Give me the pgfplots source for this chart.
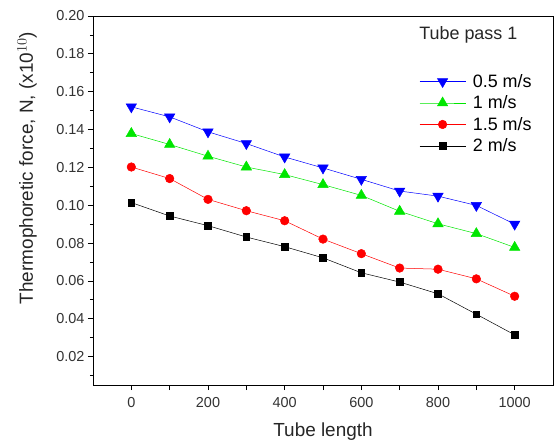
\documentclass[border=0pt]{standalone}
\usepackage{fontspec}
\setmainfont{Liberation Sans}
\usepackage{pgfplots}
\pgfplotsset{compat=1.18}
\begin{document}
\begin{tikzpicture}
\begin{axis}[
  name=ax,
  scale only axis,
  width=460bp, height=369bp,
  xmin=-100, xmax=1100,
  ymin=0.005, ymax=0.20,
  xtick={0,100,...,1000},
  xticklabels={0,,200,,400,,600,,800,,1000},
  ytick={0.02,0.04,...,0.2001},
  minor ytick={0.01,0.03,...,0.2},
  tick align=outside,
  xtick pos=bottom, ytick pos=left,
  major tick length=5bp, minor tick length=3bp,
  tick style={black, line width=0.7pt},
  axis line style={line width=0.9pt},
  yticklabel style={/pgf/number format/fixed, /pgf/number format/fixed zerofill, /pgf/number format/precision=2},
  xticklabel style={yshift=-4bp},
  /pgf/number format/1000 sep={},
  /pgf/number format/assume math mode=true,
  ticklabel style={font=\fontsize{14.5}{16}\selectfont, text=black!80},
  xlabel={Tube length},
  ylabel={Thermophoretic force, N, (x10$^{10}$)},
  label style={font=\fontsize{19}{21}\selectfont, text=black!85},
  xlabel style={at={([yshift=-47bp]rel axis cs:0.5,0)}, anchor=center},
  ylabel style={at={([xshift=-66bp]rel axis cs:0,0.588)}, anchor=center},
  legend style={draw=none, fill=none, at={(rel axis cs:0.709,0.848)}, anchor=north west,
    font=\fontsize{18}{20}\selectfont, row sep=3bp, inner sep=0bp,
    /tikz/every odd column/.append style={column sep=5bp}},
  legend cell align=left,
  legend image code/.code={\draw[#1, mark repeat=2, mark phase=2] plot coordinates {(0bp,0bp) (23bp,0bp) (46bp,0bp)};},
]
\addplot[blue, line width=0.5pt, mark=triangle*, mark size=6bp, mark options={rotate=180, solid}] coordinates {
(0,0.1520) (100,0.1467) (200,0.1388) (300,0.1326) (400,0.1255) (500,0.1197) (600,0.1137) (700,0.1075) (800,0.1048) (900,0.0999) (1000,0.0900)};
\addlegendentry{0.5 m/s}
\addplot[color={rgb,255:red,0;green,230;blue,0}, line width=0.5pt, mark=triangle*, mark size=6bp, mark options={fill={rgb,255:red,0;green,230;blue,0}}] coordinates {
(0,0.1379) (100,0.1321) (200,0.1259) (300,0.1202) (400,0.1162) (500,0.1109) (600,0.1052) (700,0.0968) (800,0.0902) (900,0.0850) (1000,0.0777)};
\addlegendentry{1 m/s}
\addplot[red, line width=0.5pt, mark=*, mark size=4.3bp] coordinates {
(0,0.1202) (100,0.1141) (200,0.1031) (300,0.0971) (400,0.0918) (500,0.0821) (600,0.0744) (700,0.0668) (800,0.0662) (900,0.0611) (1000,0.0519)};
\addlegendentry{1.5 m/s}
\addplot[black, line width=0.5pt, mark=square*, mark size=3.4bp] coordinates {
(0,0.1014) (100,0.0943) (200,0.0892) (300,0.0832) (400,0.0781) (500,0.0722) (600,0.0643) (700,0.0594) (800,0.0532) (900,0.0424) (1000,0.0315)};
\addlegendentry{2 m/s}
\node[anchor=west, inner sep=0pt, font=\fontsize{18}{20}\selectfont, text=black!85] at (rel axis cs:0.709,0.9485) {Tube pass 1};
\end{axis}
\pgfresetboundingbox
\path[use as bounding box] ([xshift=-93bp,yshift=-60bp]ax.south west) rectangle ([xshift=1bp,yshift=16bp]ax.north east);
\end{tikzpicture}
\end{document}
